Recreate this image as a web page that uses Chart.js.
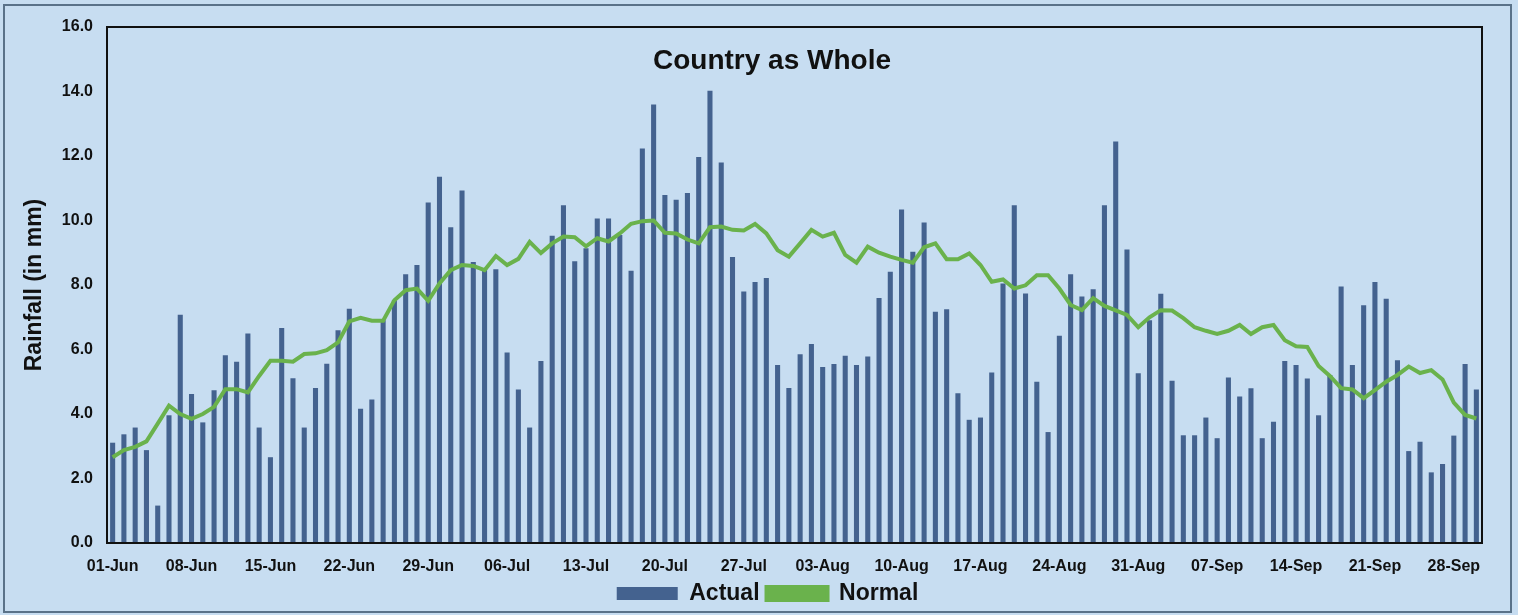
<!DOCTYPE html>
<html>
<head>
<meta charset="utf-8">
<script src="https://cdn.jsdelivr.net/npm/chart.js@4.4.1/dist/chart.umd.min.js"></script>
<style>
  html, body { margin: 0; padding: 0; background: #c7ddf1; }
  #wrap { width: 1518px; height: 615px; position: relative; }
</style>
</head>
<body>
<div id="wrap"><canvas id="rainChart" width="1518" height="615"></canvas></div>
<script>
// daily categories 01-Jun .. 30-Sep
const MONTHS = [['Jun', 30], ['Jul', 31], ['Aug', 31], ['Sep', 30]];
const dayLabels = [];
MONTHS.forEach(([m, n]) => {
  for (let d = 1; d <= n; d++) dayLabels.push(String(d).padStart(2, '0') + '-' + m);
});

const yTicks = [0, 2, 4, 6, 8, 10, 12, 14, 16];

const actualRain = [
  3.11, 3.37, 3.58, 2.88, 1.16, 3.96, 7.08, 4.62, 3.74, 4.74, 5.82, 5.62, 6.50, 3.58, 2.66, 6.67, 5.11, 3.58, 4.81, 5.56, 6.60, 7.26,
  4.16, 4.45, 6.91, 7.53, 8.33, 8.62, 10.56, 11.36, 9.79, 10.93, 8.71, 8.52, 8.49, 5.91, 4.76, 3.58, 5.64, 9.53, 10.47, 8.74, 9.14,
  10.06, 10.06, 9.55, 8.44, 12.23, 13.60, 10.79, 10.64, 10.85, 11.97, 14.02, 11.80, 8.87, 7.80, 8.09, 8.22, 5.52, 4.81, 5.85, 6.17, 5.46,
  5.55, 5.81, 5.52, 5.78, 7.60, 8.41, 10.34, 9.03, 9.94, 7.17, 7.25, 4.64, 3.82, 3.89, 5.29, 8.05, 10.47, 7.74, 5.00, 3.44, 6.43,
  8.33, 7.64, 7.87, 10.47, 12.45, 9.10, 5.26, 6.91, 7.73, 5.03, 3.34, 3.34, 3.89, 3.25, 5.13, 4.54, 4.80, 3.25, 3.76, 5.64, 5.52, 5.10,
  3.96, 5.21, 7.95, 5.52, 7.37, 8.09, 7.57, 5.67, 2.85, 3.14, 2.19, 2.45, 3.33, 5.55, 4.76
];

const normalRain = [
  2.66, 2.88, 2.98, 3.15, 3.70, 4.26, 4.00, 3.85, 4.00, 4.22, 4.77, 4.77, 4.67, 5.18, 5.65, 5.65, 5.62, 5.86, 5.88, 5.98, 6.22, 6.87,
  6.98, 6.89, 6.89, 7.53, 7.84, 7.89, 7.51, 8.05, 8.46, 8.62, 8.59, 8.46, 8.90, 8.62, 8.81, 9.34, 8.99, 9.29, 9.50, 9.48, 9.20,
  9.45, 9.35, 9.60, 9.90, 9.98, 10.00, 9.62, 9.60, 9.41, 9.29, 9.79, 9.81, 9.71, 9.69, 9.89, 9.60, 9.08, 8.88, 9.29, 9.71, 9.50,
  9.62, 8.93, 8.69, 9.19, 9.00, 8.88, 8.78, 8.69, 9.17, 9.29, 8.80, 8.80, 8.98, 8.62, 8.10, 8.17, 7.89, 7.99, 8.30, 8.30, 7.89,
  7.38, 7.22, 7.59, 7.35, 7.21, 7.07, 6.69, 7.00, 7.22, 7.21, 6.97, 6.69, 6.58, 6.48, 6.58, 6.76, 6.48, 6.69, 6.76, 6.29, 6.10, 6.08,
  5.49, 5.18, 4.80, 4.76, 4.49, 4.74, 5.00, 5.21, 5.47, 5.27, 5.36, 5.07, 4.35, 3.97, 3.86
];

const BG = '#c7ddf1';
const FONT = '"Liberation Sans", Arial, sans-serif';

const framePlugin = {
  id: 'frame',
  afterLayout(chart) {
    // legend in the original sits a little right of centre
    if (chart.legend) { chart.legend.left += 16; chart.legend.right += 16; }
  },
  beforeDraw(chart) {
    const c = chart.ctx;
    c.save();
    c.fillStyle = BG;
    c.fillRect(0, 0, chart.width, chart.height);
    c.strokeStyle = '#5a7289';
    c.lineWidth = 2;
    c.strokeRect(4, 5, 1507, 607);
    c.restore();
  },
  afterDraw(chart) {
    const a = chart.chartArea, c = chart.ctx;
    c.save();
    c.strokeStyle = '#111';
    c.lineWidth = 2;
    c.strokeRect(a.left, a.top, a.right - a.left, a.bottom - a.top);
    c.fillStyle = '#111';
    c.font = 'bold 28px ' + FONT;
    c.textAlign = 'center';
    c.textBaseline = 'middle';
    c.fillText('Country as Whole', 772, 61);
    c.restore();
  }
};

new Chart(document.getElementById('rainChart'), {
  data: {
    labels: dayLabels,
    datasets: [
      {
        type: 'bar',
        label: 'Actual',
        data: actualRain,
        backgroundColor: '#44628f',
        borderWidth: 0,
        barPercentage: 0.45,
        categoryPercentage: 1.0,
        order: 1
      },
      {
        type: 'line',
        label: 'Normal',
        data: normalRain,
        borderColor: '#6ab24c',
        backgroundColor: '#6ab24c',
        borderWidth: 4,
        pointRadius: 0,
        tension: 0,
        order: 0
      }
    ]
  },
  options: {
    responsive: false,
    animation: false,
    layout: { padding: { left: 21, top: 27, right: 36, bottom: 0 } },
    plugins: {
      legend: {
        position: 'bottom',
        labels: {
          color: '#111',
          font: { family: FONT, size: 23, weight: 'bold' },
          boxWidth: 61,
          boxHeight: 13,
          padding: 7,
          sort: (a, b) => a.datasetIndex - b.datasetIndex
        }
      },
      tooltip: { enabled: false }
    },
    scales: {
      x: {
        grid: { display: false, drawTicks: false },
        border: { color: '#111', width: 2 },
        ticks: {
          autoSkip: false,
          maxRotation: 0,
          minRotation: 0,
          padding: 14,
          color: '#111',
          font: { family: FONT, size: 16, weight: 'bold' },
          callback: (v, i) => (i % 7 === 0 ? dayLabels[i] : '')
        },
        afterFit: s => { s.height = 32; }
      },
      y: {
        min: yTicks[0],
        max: yTicks[yTicks.length - 1],
        grid: { display: false, drawTicks: false },
        border: { color: '#111', width: 2 },
        afterBuildTicks: s => { s.ticks = yTicks.map(v => ({ value: v })); },
        ticks: {
          padding: 14,
          color: '#111',
          font: { family: FONT, size: 16, weight: 'bold' },
          callback: v => Number(v).toFixed(1)
        },
        title: {
          display: true,
          text: 'Rainfall (in mm)',
          color: '#111',
          font: { family: FONT, size: 23, weight: 'bold' },
          padding: { top: 0, bottom: 0 }
        },
        afterFit: s => { s.width = 86; }
      }
    }
  },
  plugins: [framePlugin]
});
</script>
</body>
</html>
